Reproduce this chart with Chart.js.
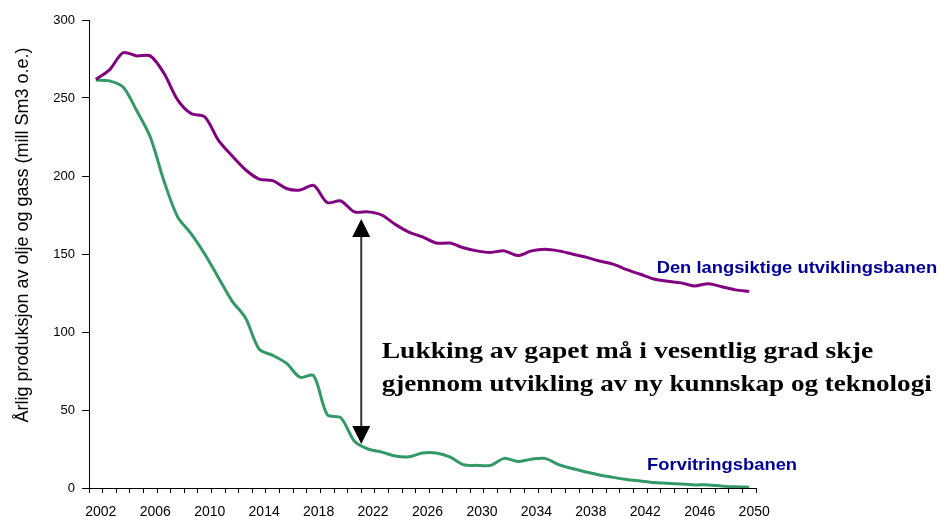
<!DOCTYPE html>
<html lang="no">
<head>
<meta charset="utf-8">
<title>Produksjon av olje og gass</title>
<script src="https://cdn.jsdelivr.net/npm/chart.js@4"></script>
<style>
  body { margin: 0; background: #fff; }
  #wrap { width: 944px; height: 517px; }
</style>
</head>
<body>
<div id="wrap"><canvas id="grafico" width="944" height="517"></canvas></div>
<script>
// ================== DADOS ==================
const aar = [];
for (let a = 2002; a <= 2050; a++) aar.push(String(a));

// Den langsiktige utviklingsbanen (mill Sm3 o.e.)
const langsiktig = [
  262, 268, 279, 277, 277, 266, 249, 240, 238, 223,
  213, 204, 198, 197, 192, 191, 194, 183, 184, 177,
  177, 175, 169, 164, 161, 157, 157, 154, 152, 151,
  152, 149, 152, 153, 152, 150, 148, 145.5, 143.5, 140,
  137, 134, 132.5, 131.5, 129.5, 131, 129, 127, 126
];

// Forvitringsbanen
const forvitring = [
  261.5, 261, 257, 242, 225, 197, 174, 163, 150, 135,
  120, 109, 89, 85, 80, 71, 72, 47, 45, 30,
  25, 23, 20.5, 20, 22.5, 22.5, 20, 15, 14.5, 14.5,
  19, 17, 18.5, 19, 15, 12.5, 10.3, 8.3, 6.8, 5.5,
  4.5, 3.5, 3, 2.5, 2, 2, 1.2, 0.8, 0.5
];

const yTicks = [0, 50, 100, 150, 200, 250, 300];

const FONTE = "'Liberation Sans', Arial, sans-serif";
const FONTE_SERIF = "'Liberation Serif', 'Times New Roman', serif";

// tekst litt strukket på bredden, som i originalen
function tekstBred(ctx, txt, x, y, sx) {
  ctx.save();
  ctx.translate(x, y);
  ctx.scale(sx, 1);
  ctx.fillText(txt, 0, 0);
  ctx.restore();
}

// ================== TEKST OG PIL ==================
const anotacoes = {
  id: "anotacoes",
  afterDraw(chart) {
    const { ctx } = chart;
    const x = chart.scales.x;
    const y = chart.scales.y;
    ctx.save();

    // aksetittel
    ctx.save();
    ctx.translate(23, 235);
    ctx.rotate(-Math.PI / 2);
    ctx.font = "18px " + FONTE;
    ctx.fillStyle = "#000";
    ctx.textAlign = "center";
    ctx.textBaseline = "middle";
    ctx.fillText("Årlig produksjon av olje og gass (mill Sm3 o.e.)", 0, 0);
    ctx.restore();

    // dobbeltpil
    const xa = x.getPixelForValue(19.5);
    const yTop = y.getPixelForValue(172.4);
    const yBot = y.getPixelForValue(28.2);
    ctx.strokeStyle = "#333";
    ctx.lineWidth = 2;
    ctx.beginPath();
    ctx.moveTo(xa, yTop + 10);
    ctx.lineTo(xa, yBot - 10);
    ctx.stroke();
    ctx.fillStyle = "#000";
    ctx.beginPath();
    ctx.moveTo(xa, yTop);
    ctx.lineTo(xa - 9, yTop + 18);
    ctx.lineTo(xa + 9, yTop + 18);
    ctx.closePath();
    ctx.fill();
    ctx.beginPath();
    ctx.moveTo(xa, yBot);
    ctx.lineTo(xa - 9, yBot - 18);
    ctx.lineTo(xa + 9, yBot - 18);
    ctx.closePath();
    ctx.fill();

    // stor tekst
    ctx.font = "bold 24px " + FONTE_SERIF;
    ctx.fillStyle = "#000";
    ctx.textAlign = "left";
    ctx.textBaseline = "alphabetic";
    const xt = x.getPixelForValue(21);
    tekstBred(ctx, "Lukking av gapet må i vesentlig grad skje", xt, y.getPixelForValue(83.3), 1.15);
    tekstBred(ctx, "gjennom utvikling av ny kunnskap og teknologi", xt, y.getPixelForValue(62.2), 1.13);

    // serienavn
    ctx.font = "bold 17px " + FONTE;
    ctx.fillStyle = "#000099";
    tekstBred(ctx, "Den langsiktige utviklingsbanen", x.getPixelForValue(41.2), y.getPixelForValue(137.8), 1.08);
    tekstBred(ctx, "Forvitringsbanen", x.getPixelForValue(40.5), y.getPixelForValue(11.5), 1.08);

    ctx.restore();
  },
};

// ================== GRAFIKK ==================
const ctx = document.getElementById("grafico");

new Chart(ctx, {
  type: "line",
  data: {
    labels: aar,
    datasets: [
      {
        label: "Den langsiktige utviklingsbanen",
        data: langsiktig,
        borderColor: "#800080",
        borderWidth: 3,
        pointRadius: 0,
        tension: 0.3,
        fill: false,
      },
      {
        label: "Forvitringsbanen",
        data: forvitring,
        borderColor: "#339966",
        borderWidth: 3,
        pointRadius: 0,
        tension: 0.3,
        fill: false,
      },
    ],
  },
  options: {
    responsive: false,
    animation: false,
    layout: { padding: { top: 20, right: 188, bottom: 0, left: 0 } },
    plugins: {
      legend: { display: false },
      tooltip: { enabled: false },
    },
    scales: {
      x: {
        offset: true,
        border: { color: "#000", width: 1 },
        grid: {
          offset: true,
          drawOnChartArea: false,
          tickLength: 5,
          tickColor: "#000",
        },
        ticks: {
          autoSkip: false,
          maxRotation: 0,
          labelOffset: 5,
          padding: 11,
          color: "#000",
          font: { family: FONTE, size: 14 },
          callback(val, i) {
            return i % 4 === 0 ? this.getLabelForValue(val) : "";
          },
        },
        afterFit(scale) {
          scale.height = 29;
        },
      },
      y: {
        min: 0,
        max: 300,
        border: { color: "#000", width: 1 },
        grid: {
          drawOnChartArea: false,
          tickLength: 7,
          tickColor: "#000",
        },
        afterBuildTicks(scale) {
          scale.ticks = yTicks.map((v) => ({ value: v }));
        },
        ticks: {
          padding: 7,
          color: "#000",
          font: { family: FONTE, size: 13 },
        },
        afterFit(scale) {
          scale.width = 89;
        },
      },
    },
  },
  plugins: [anotacoes],
});
</script>
</body>
</html>
